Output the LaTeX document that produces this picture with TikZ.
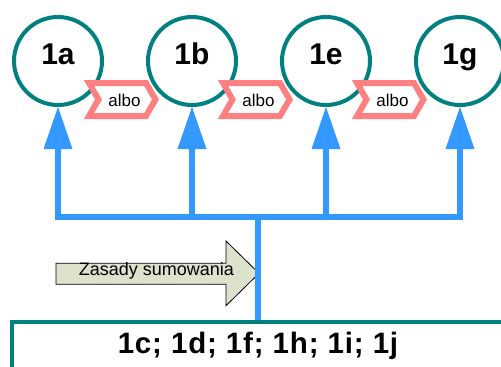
\documentclass[tikz,border=0pt]{standalone}
\usepackage{fontspec}
\setmainfont{Liberation Sans}
\usetikzlibrary{arrows.meta}
\definecolor{teal1}{RGB}{0,128,128}
\definecolor{blue1}{RGB}{51,153,255}
\definecolor{pink1}{RGB}{255,128,128}
\definecolor{sage}{RGB}{221,226,204}
\begin{document}
\begin{tikzpicture}[x=1pt,y=-1pt,
  circ/.style={circle,draw=teal1,line width=4pt,fill=white,minimum size=88pt,inner sep=0pt,
    font=\fontsize{30}{30}\selectfont\bfseries,text height=0.72em,text depth=0pt},
  tagshape/.style={draw=pink1,fill=white,line width=6pt,line join=miter},
  tagtext/.style={font=\fontsize{17}{17}\selectfont,anchor=base,inner sep=0pt},
  bluearrow/.style={draw=blue1,line width=6pt,-{Triangle[width=29pt,length=42pt,line width=0pt]}},
  blueline/.style={draw=blue1,line width=6pt},
  sumarrow/.style={draw=black,fill=sage,line width=0.8pt,line join=miter},
  boxstyle/.style={draw=teal1,line width=4pt,minimum width=492pt,minimum height=58pt,inner sep=0pt,
    font=\fontsize{29.5}{29.5}\selectfont\bfseries\addfontfeature{LetterSpace=2.8},text height=0.72em,text depth=0.21em},
]
\useasboundingbox (0,0) rectangle (501,367);
\clip (0,0) rectangle (501,367);
% circles
\node[circ] (n1a) at (58,61) {1a};
\node[circ] (n1b) at (192,61) {1b};
\node[circ] (n1e) at (326,61) {1e};
\node[circ] (n1g) at (460,61) {1g};
% albo tags
\foreach \i/\dx in {1/0,2/134,3/268}{
  \begin{scope}[xshift=\dx pt]
    \draw[tagshape] (89,83) -- (146,83) -- (155.5,99.5) -- (146,116) -- (89,116) -- (98.5,99.5) -- cycle;
    \node[tagtext] (albo\i) at (124.5,106) {albo};
  \end{scope}
}
% Zasady sumowania arrow
\draw[sumarrow] (56,263.3) -- (226,263.3) -- (226,241) -- (259,273.3) -- (226,305.7) -- (226,284.3) -- (56,284.3) -- cycle;
\node[font=\fontsize{18}{18}\selectfont,anchor=base,inner sep=0pt] (zasady) at (156.5,275.7) {Zasady sumowania};
% blue tree
\coordinate (bar) at (258,217);
\coordinate (barL) at (55,217);
\coordinate (barR) at (463,217);
\draw[blueline] (barL) -- (barR);
\draw[bluearrow] (n1a.south |- bar) -- (n1a.south);
\draw[bluearrow] (n1b.south |- bar) -- (n1b.south);
\draw[bluearrow] (n1e.south |- bar) -- (n1e.south);
\draw[bluearrow] (n1g.south |- bar) -- (n1g.south);
% bottom box
\node[boxstyle] (box) at (258,350.5) {1c; 1d; 1f; 1h; 1i; 1j};
\draw[blueline] (bar) -- (box.north);
\end{tikzpicture}
\end{document}
